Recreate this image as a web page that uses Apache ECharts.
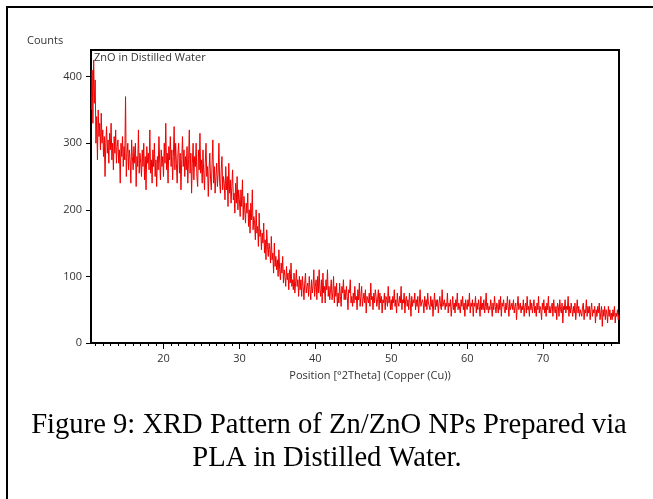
<!DOCTYPE html>
<html>
<head>
<meta charset="utf-8">
<script src="https://cdn.jsdelivr.net/npm/echarts@6/dist/echarts.min.js"></script>
<style>
  html, body { margin: 0; padding: 0; background: #fff; }
  #xrd { width: 653px; height: 499px; }
</style>
</head>
<body>
<div id="xrd"></div>
<script>
// scan grid (degrees 2theta)
const scanStart = 10.5;
const scanStep = 0.1;

// counts, one row per degree
const counts = [
  350, 410, 330, 425, 360,
  395, 300, 340, 275, 350, 310, 330, 290, 345, 300,
  320, 280, 310, 250, 300, 325, 285, 305, 270, 315,
  290, 330, 275, 300, 260, 310, 285, 320, 270, 295,
  305, 270, 290, 240, 300, 280, 310, 265, 295, 275,
  370, 250, 285, 300, 260, 290, 275, 240, 305, 280,
  260, 295, 270, 300, 235, 280, 265, 320, 255, 285,
  270, 250, 290, 265, 300, 245, 280, 230, 295, 270,
  285, 260, 320, 255, 275, 240, 290, 265, 300, 250,
  275, 235, 280, 260, 310, 270, 245, 290, 265, 280,
  250, 300, 270, 330, 260, 285, 240, 295, 275, 310,
  265, 290, 245, 280, 325, 260, 300, 270, 240, 285,
  300, 255, 285, 230, 275, 310, 265, 290, 250, 280,
  260, 295, 240, 275, 320, 255, 285, 225, 270, 300,
  245, 280, 265, 300, 250, 235, 290, 260, 315, 255,
  275, 240, 290, 255, 230, 270, 300, 250, 265, 220,
  260, 285, 245, 230, 270, 305, 240, 265, 225, 250,
  270, 235, 255, 300, 240, 225, 260, 280, 230, 250,
  240, 215, 265, 230, 250, 205, 270, 225, 245, 210,
  235, 260, 215, 225, 195, 240, 210, 250, 200, 230,
  215, 190, 230, 205, 245, 185, 220, 200, 180, 210,
  195, 225, 175, 200, 165, 210, 185, 230, 170, 190,
  180, 155, 200, 165, 175, 145, 195, 160, 170, 140,
  165, 150, 180, 135, 155, 125, 170, 145, 130, 150,
  140, 120, 160, 125, 135, 105, 150, 115, 130, 110,
  125, 100, 140, 110, 95, 120, 105, 130, 90, 110,
  100, 85, 115, 95, 105, 80, 110, 90, 120, 85,
  95, 80, 105, 75, 90, 110, 85, 95, 70, 100,
  80, 95, 70, 100, 85, 65, 90, 105, 75, 85,
  90, 70, 100, 80, 65, 95, 75, 85, 110, 70,
  85, 95, 65, 100, 75, 110, 80, 70, 95, 60,
  105, 75, 85, 60, 95, 80, 110, 70, 85, 65,
  80, 95, 65, 75, 100, 60, 85, 70, 90, 55,
  75, 60, 90, 70, 55, 85, 75, 95, 65, 80,
  65, 85, 70, 50, 80, 75, 95, 60, 70, 55,
  75, 60, 85, 65, 70, 50, 80, 65, 90, 55,
  70, 85, 55, 65, 75, 60, 80, 45, 70, 65,
  60, 75, 55, 90, 65, 70, 50, 75, 60, 80,
  70, 55, 65, 80, 50, 75, 60, 70, 45, 65,
  60, 75, 50, 70, 65, 55, 85, 60, 70, 50,
  65, 50, 70, 60, 80, 55, 65, 45, 75, 60,
  55, 70, 60, 85, 50, 65, 60, 75, 45, 65,
  70, 55, 65, 50, 75, 60, 40, 70, 55, 65,
  60, 75, 50, 65, 55, 70, 45, 60, 80, 55,
  55, 65, 60, 45, 70, 55, 65, 50, 75, 60,
  60, 50, 70, 55, 65, 40, 60, 75, 50, 65,
  55, 65, 45, 60, 70, 55, 50, 80, 55, 60,
  65, 50, 60, 55, 75, 45, 60, 55, 65, 40,
  55, 70, 50, 60, 45, 65, 55, 75, 50, 60,
  60, 45, 65, 55, 70, 50, 60, 40, 65, 55,
  50, 65, 55, 75, 45, 60, 55, 65, 40, 60,
  55, 70, 45, 60, 50, 65, 55, 40, 70, 50,
  60, 50, 65, 45, 55, 75, 50, 60, 45, 55,
  50, 65, 55, 40, 60, 50, 70, 55, 45, 60,
  55, 45, 65, 50, 70, 40, 60, 55, 65, 50,
  45, 60, 50, 70, 55, 40, 65, 50, 55, 60,
  50, 65, 45, 55, 60, 35, 55, 70, 50, 55,
  60, 45, 55, 50, 65, 40, 55, 60, 45, 70,
  50, 55, 40, 65, 50, 60, 45, 55, 65, 45,
  55, 40, 60, 50, 70, 45, 55, 50, 35, 60,
  50, 65, 45, 55, 40, 60, 50, 70, 45, 55,
  45, 55, 60, 40, 65, 50, 45, 55, 35, 60,
  55, 40, 65, 50, 45, 60, 30, 55, 50, 65,
  45, 55, 50, 70, 40, 55, 45, 60, 50, 40,
  55, 45, 60, 35, 50, 65, 45, 55, 40, 50,
  50, 40, 55, 60, 35, 50, 45, 65, 40, 55,
  45, 55, 35, 50, 60, 40, 50, 45, 55, 30,
  50, 40, 55, 45, 60, 35, 45, 55, 25, 50,
  40, 55, 35, 50, 45, 30, 55, 40, 50, 35,
  45, 35, 50, 40, 55, 30, 45, 40, 50, 35,
  42
];

const xMajorTicks = [20, 30, 40, 50, 60, 70];
const yTicks = [0, 100, 200, 300, 400];

const pattern = counts.map((c, i) => [Math.round((scanStart + i * scanStep) * 100) / 100, c]);

const minorTicks = [];
for (let d = 11; d <= 79; d++) minorTicks.push(d);

const chart = echarts.init(document.getElementById('xrd'), null, { renderer: 'canvas' });

const sans = 'Open Sans';
const axisBlack = { color: '#000', width: 2 };

chart.setOption({
  animation: false,
  backgroundColor: '#fff',
  grid: {
    left: 91, top: 50, width: 528, height: 293,
    show: true, borderColor: '#000', borderWidth: 2
  },
  xAxis: [
    {
      type: 'value', min: 10.45, max: 80,
      axisLine: { lineStyle: axisBlack },
      axisTick: { customValues: minorTicks, length: 3, lineStyle: { color: '#000', width: 1 } },
      axisLabel: { show: false },
      splitLine: { show: false }
    },
    {
      type: 'value', min: 10.45, max: 80, position: 'bottom',
      axisLine: { show: false },
      axisTick: { customValues: xMajorTicks, length: 6, lineStyle: { color: '#000', width: 1 } },
      axisLabel: { customValues: xMajorTicks, margin: 10, color: '#333', fontSize: 11, fontFamily: sans },
      splitLine: { show: false }
    }
  ],
  yAxis: {
    type: 'value', min: 0, max: 440,
    axisLine: { show: true, lineStyle: axisBlack },
    axisTick: { show: true, customValues: yTicks, length: 5, lineStyle: { color: '#000', width: 1 } },
    axisLabel: { customValues: yTicks, margin: 9, color: '#333', fontSize: 11, fontFamily: sans },
    splitLine: { show: false }
  },
  series: [{
    type: 'line',
    xAxisIndex: 0,
    data: pattern,
    showSymbol: false,
    lineStyle: { color: '#f00000', width: 1 },
    clip: true
  }],
  graphic: [
    { type: 'rect', shape: { x: 7, y: 7, width: 700, height: 600 }, style: { fill: null, stroke: '#000', lineWidth: 2 }, silent: true },
    { type: 'text', left: 27, top: 35, style: { text: 'Counts', fill: '#333', font: '11px "Open Sans"' } },
    { type: 'text', left: 94, top: 52, style: { text: 'ZnO in Distilled Water', fill: '#333', font: '11px "Open Sans"' } },
    { type: 'text', x: 370, y: 376, style: { text: 'Position [°2Theta] (Copper (Cu))', fill: '#333', font: '11px "Open Sans"', align: 'center', verticalAlign: 'middle' } },
    { type: 'text', x: 329, y: 425, style: { text: 'Figure 9: XRD Pattern of Zn/ZnO NPs Prepared via', fill: '#000', font: '28.6px "Liberation Serif"', align: 'center', verticalAlign: 'middle' } },
    { type: 'text', x: 327, y: 458, style: { text: 'PLA in Distilled Water.', fill: '#000', font: '28.6px "Liberation Serif"', align: 'center', verticalAlign: 'middle' } }
  ]
});
</script>
</body>
</html>
